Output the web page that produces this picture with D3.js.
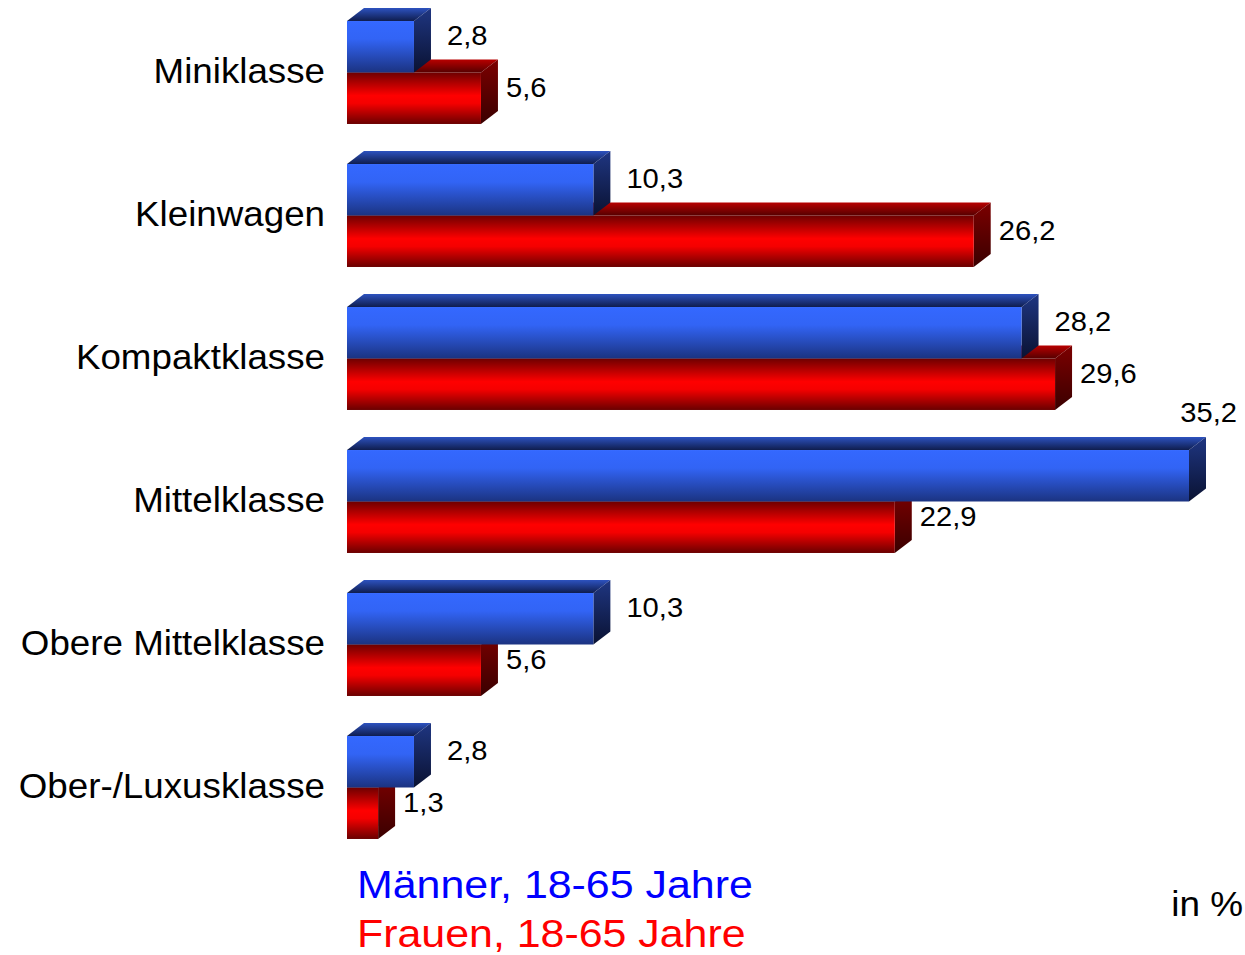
<!DOCTYPE html>
<html><head><meta charset="utf-8">
<script src="https://cdn.jsdelivr.net/npm/d3@7"></script>
<style>html,body{margin:0;padding:0;background:#fff;}svg{display:block;}</style>
</head><body>
<script>
const categories = ["Miniklasse","Kleinwagen","Kompaktklasse","Mittelklasse","Obere Mittelklasse","Ober-/Luxusklasse"];
const maenner = [2.8, 10.3, 28.2, 35.2, 10.3, 2.8];
const frauen = [5.6, 26.2, 29.6, 22.9, 5.6, 1.3];
const seriesNames = ["Männer, 18-65 Jahre","Frauen, 18-65 Jahre"];
const unitLabel = "in %";

const W = 1245, H = 955;
const svg = d3.select("body").append("svg").attr("width", W).attr("height", H);
const defs = svg.append("defs");
function grad(id, stops){
  const g = defs.append("linearGradient").attr("id", id).attr("x1",0).attr("y1",0).attr("x2",0).attr("y2",1);
  stops.forEach(s => g.append("stop").attr("offset", s[0]).attr("stop-color", s[1]));
}
grad("bFront", [[0,"#3468ff"],[0.35,"#3264f5"],[1,"#1b3381"]]);
grad("bTop", [[0,"#2d52bf"],[1,"#0f1d4e"]]);
grad("bSide", [[0,"#1f3682"],[1,"#0a1232"]]);
grad("rFront", [[0,"#6e0000"],[0.45,"#ff0000"],[0.6,"#f50000"],[1,"#6a0000"]]);
grad("rTop", [[0,"#b80000"],[1,"#560000"]]);
grad("rSide", [[0,"#7c0000"],[1,"#3a0000"]]);

const x = d3.scaleLinear().domain([0, 35.2]).range([347, 1189]);
const y = d3.scaleBand().domain(categories).range([1, 859]).paddingInner(0.28).paddingOuter(0.14);
const inner = d3.scaleBand().domain(["m","f"]).range([0, y.bandwidth()]);
const dx = 17, dy = 13;

const data = categories.map((c,i)=>({c, m: maenner[i], f: frauen[i]}));

function drawBar(g, key, v, c, pre){
  const x0 = x(0), x1 = x(v);
  const top = y(c) + inner(key), bot = top + inner.bandwidth();
  g.append("path").attr("d", `M${x0},${top}L${x0+dx},${top-dy}L${x1+dx},${top-dy}L${x1},${top}Z`).attr("fill", `url(#${pre}Top)`);
  g.append("path").attr("d", `M${x1},${top}L${x1+dx},${top-dy}L${x1+dx},${bot-dy}L${x1},${bot}Z`).attr("fill", `url(#${pre}Side)`);
  g.append("rect").attr("x", x0).attr("y", top).attr("width", x1-x0).attr("height", bot-top).attr("fill", `url(#${pre}Front)`);
}
function txt(g, tx, ty, s, size, color, anchor, sx){
  g.append("text").attr("transform", `translate(${tx},${ty}) scale(${sx},1)`)
    .attr("text-anchor", anchor).attr("font-family", "'Liberation Sans', Arial, sans-serif")
    .attr("font-size", size).attr("fill", color).text(s);
}
const fmt = v => d3.format(".1f")(v).replace(".", ",");

const bars = svg.append("g");
data.forEach(d => {
  const g = bars.append("g");
  drawBar(g, "f", d.f, d.c, "r");
  drawBar(g, "m", d.m, d.c, "b");
});

const labels = svg.append("g");
data.forEach(d => {
  [["m", d.m, 16], ["f", d.f, 8]].forEach(([k, v, off]) => {
    const top = y(d.c) + inner(k);
    let lx = x(v) + dx + off, ly = top + 24, anchor = "start";
    if (lx + 62 > W) { lx = W - 8; ly = top - dy - 15; anchor = "end"; }
    txt(labels, lx, ly, fmt(v), 27, "#000", anchor, 1.08);
  });
  txt(labels, 325, y(d.c) + y.bandwidth()/2 + 10, d.c, 34.5, "#000", "end", 1.065);
});

txt(svg, 357, 898, seriesNames[0], 39, "#0000ff", "start", 1.1);
txt(svg, 357, 947, seriesNames[1], 39, "#ff0000", "start", 1.1);
txt(svg, 1243, 916, unitLabel, 34.5, "#000", "end", 1.07);
</script>
</body></html>
